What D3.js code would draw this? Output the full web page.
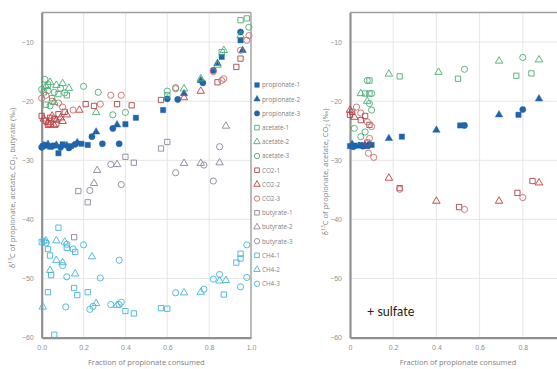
<!DOCTYPE html>
<html>
<head>
<meta charset="utf-8">
<script src="https://cdn.jsdelivr.net/npm/d3@7"></script>
<style>
  html, body { margin: 0; padding: 0; background: #fff; }
  svg { display: block; font-family: "Open Sans", "Noto Sans", sans-serif; }
</style>
</head>
<body>
<script>
// x = fraction of propionate consumed, y = d13C (permil)
const xTicksLeft = ['0.0', '0.2', '0.4', '0.6', '0.8', '1.0'];
const xTicksRight = ['0', '0.2', '0.4', '0.6', '0.8'];
const yTicks = [-10, -20, -30, -40, -50, -60];

// left panel (no sulfate)
const propionate1 = [[0.005,-27.6],[0.02,-27.4],[0.04,-27.7],[0.06,-27.5],[0.08,-28.8],[0.1,-27.3],[0.14,-27.6],[0.19,-27.2],[0.22,-27.4],[0.40,-23.9],[0.45,-22.8],[0.58,-21.5],[0.86,-12.5],[0.95,-9.7]];
const propionate2 = [[0.01,-27.5],[0.03,-27.3],[0.07,-27.4],[0.12,-27.5],[0.17,-27.0],[0.26,-25.2],[0.36,-24.0],[0.68,-18.7],[0.76,-16.5],[0.84,-13.6],[0.96,-11.4]];
const propionate3 = [[0.0,-27.8],[0.015,-27.5],[0.05,-27.6],[0.09,-27.8],[0.13,-27.9],[0.16,-27.3],[0.24,-26.0],[0.29,-27.2],[0.34,-24.6],[0.37,-27.2],[0.60,-19.6],[0.65,-19.7],[0.77,-16.9],[0.82,-14.8],[0.95,-8.3]];
const acetate1 = [[0.01,-18.5],[0.03,-17.2],[0.05,-19.5],[0.08,-18.8],[0.12,-19.0],[0.02,-20.6],[0.6,-19.0],[0.86,-11.7],[0.95,-6.3],[0.98,-6.0]];
const acetate2 = [[0.02,-17.5],[0.04,-16.8],[0.07,-17.3],[0.1,-17.0],[0.13,-17.8],[0.06,-20.2],[0.26,-21.9],[0.68,-17.9],[0.76,-16.2],[0.84,-13.9],[0.87,-11.4],[0.95,-8.9]];
const acetate3 = [[0.0,-18.0],[0.015,-16.3],[0.03,-18.2],[0.06,-18.5],[0.09,-17.8],[0.11,-18.6],[0.04,-20.8],[0.2,-17.5],[0.27,-18.5],[0.34,-22.3],[0.40,-21.9],[0.6,-18.3],[0.64,-17.9],[0.99,-7.5]];
const co2_1 = [[0.0,-22.5],[0.02,-23.3],[0.04,-22.8],[0.06,-23.0],[0.08,-22.2],[0.11,-21.8],[0.03,-24.0],[0.07,-23.8],[0.21,-20.5],[0.25,-20.8],[0.36,-20.5],[0.43,-20.7],[0.57,-19.8],[0.84,-16.8],[0.93,-14.2],[0.95,-12.8]];
const co2_2 = [[0.01,-23.0],[0.03,-23.6],[0.05,-22.5],[0.07,-23.2],[0.09,-22.8],[0.12,-22.3],[0.04,-23.9],[0.06,-24.1],[0.1,-23.4],[0.18,-21.5],[0.68,-19.4],[0.76,-18.3]];
const co2_3 = [[0.0,-19.5],[0.02,-19.0],[0.05,-20.0],[0.08,-20.3],[0.1,-21.0],[0.15,-21.5],[0.28,-20.5],[0.33,-19.0],[0.38,-19.0],[0.64,-17.7],[0.82,-15.0],[0.86,-16.5],[0.87,-16.2],[0.95,-11.4],[0.98,-9.7],[0.99,-8.9]];
const butyrate1 = [[0.155,-43.0],[0.175,-35.2],[0.22,-37.1],[0.40,-29.4],[0.44,-30.4],[0.57,-28.0],[0.60,-26.9]];
const butyrate2 = [[0.25,-33.9],[0.265,-31.7],[0.36,-30.7],[0.68,-30.5],[0.76,-30.5],[0.85,-30.4],[0.88,-24.2]];
const butyrate3 = [[0.23,-35.1],[0.33,-30.7],[0.38,-34.1],[0.64,-32.1],[0.775,-30.8],[0.82,-33.5],[0.85,-27.7]];
const ch4_1 = [[0.0,-43.8],[0.03,-45.0],[0.04,-46.1],[0.045,-49.4],[0.03,-52.3],[0.06,-59.5],[0.08,-41.4],[0.12,-44.8],[0.16,-45.5],[0.155,-51.6],[0.17,-52.8],[0.22,-52.3],[0.40,-55.5],[0.44,-55.9],[0.57,-55.0],[0.60,-55.1],[0.87,-52.7],[0.93,-47.3],[0.95,-45.8],[0.95,-46.6]];
const ch4_2 = [[0.005,-54.8],[0.02,-43.6],[0.04,-48.6],[0.07,-43.6],[0.07,-46.9],[0.10,-47.3],[0.11,-43.8],[0.16,-49.2],[0.24,-46.3],[0.26,-54.2],[0.36,-54.5],[0.68,-52.4],[0.76,-52.3],[0.85,-50.4],[0.88,-50.3]];
const ch4_3 = [[0.01,-43.7],[0.02,-44.0],[0.10,-47.8],[0.115,-54.8],[0.12,-44.2],[0.12,-49.7],[0.15,-45.0],[0.20,-44.3],[0.23,-55.2],[0.245,-54.7],[0.28,-49.9],[0.33,-54.4],[0.37,-46.9],[0.37,-54.4],[0.38,-54.0],[0.64,-52.4],[0.775,-51.8],[0.82,-50.1],[0.85,-49.3],[0.95,-51.4],[0.98,-44.3],[0.98,-49.8]];

// right panel (+ sulfate)
const propionate1S = [[0.0,-27.6],[0.02,-27.5],[0.05,-27.4],[0.08,-27.6],[0.10,-27.4],[0.24,-26.0],[0.51,-24.1],[0.78,-22.3]];
const propionate2S = [[0.01,-27.3],[0.04,-27.6],[0.07,-27.5],[0.18,-26.3],[0.40,-24.9],[0.69,-22.3],[0.875,-19.6]];
const propionate3S = [[0.015,-27.7],[0.06,-27.6],[0.09,-27.3],[0.53,-24.1],[0.80,-21.4]];
const acetate1S = [[0.09,-16.5],[0.07,-18.7],[0.09,-18.7],[0.23,-15.8],[0.50,-16.2],[0.77,-15.7],[0.84,-15.3]];
const acetate2S = [[0.05,-18.7],[0.08,-20.0],[0.18,-15.4],[0.41,-15.1],[0.69,-13.2],[0.875,-13.0]];
const acetate3S = [[0.08,-16.5],[0.10,-18.7],[0.09,-20.4],[0.10,-21.5],[0.07,-25.2],[0.05,-26.0],[0.02,-24.6],[0.53,-14.6],[0.80,-12.6]];
const co2_1S = [[0.0,-22.3],[0.01,-21.8],[0.05,-23.2],[0.07,-22.5],[0.09,-24.0],[0.08,-27.0],[0.23,-34.7],[0.505,-37.9],[0.775,-35.5],[0.845,-33.5]];
const co2_2S = [[0.0,-21.5],[0.02,-22.7],[0.18,-33.0],[0.40,-36.9],[0.69,-36.9],[0.875,-33.8]];
const co2_3S = [[0.03,-21.0],[0.05,-22.0],[0.08,-23.5],[0.10,-24.3],[0.09,-26.3],[0.085,-28.8],[0.11,-29.5],[0.23,-34.9],[0.53,-38.3],[0.80,-36.3]];

const seriesNames = ['propionate-1','propionate-2','propionate-3','acetate-1','acetate-2','acetate-3',
  'CO2-1','CO2-2','CO2-3','butyrate-1','butyrate-2','butyrate-3','CH4-1','CH4-2','CH4-3'];

const colors = {
  propionate: '#1f64ad', acetate: '#4aae76', co2_1: '#a8464a', co2_2: '#c43b3b', co2_3: '#cc6a6a',
  butyrate: '#8e84a0', ch4: '#45b4da'
};
const styles = [
  { shape: 'square', fill: true, color: colors.propionate },
  { shape: 'triangle', fill: true, color: colors.propionate },
  { shape: 'circle', fill: true, color: colors.propionate },
  { shape: 'square', color: colors.acetate },
  { shape: 'triangle', color: colors.acetate },
  { shape: 'circle', color: colors.acetate },
  { shape: 'square', color: colors.co2_1 },
  { shape: 'triangle', color: colors.co2_2 },
  { shape: 'circle', color: colors.co2_3 },
  { shape: 'square', color: colors.butyrate },
  { shape: 'triangle', color: colors.butyrate },
  { shape: 'circle', color: colors.butyrate },
  { shape: 'square', color: colors.ch4 },
  { shape: 'triangle', color: colors.ch4 },
  { shape: 'circle', color: colors.ch4 }
];

const leftData = [propionate1, propionate2, propionate3, acetate1, acetate2, acetate3,
  co2_1, co2_2, co2_3, butyrate1, butyrate2, butyrate3, ch4_1, ch4_2, ch4_3];
const rightData = [propionate1S, propionate2S, propionate3S, acetate1S, acetate2S, acetate3S,
  co2_1S, co2_2S, co2_3S, [], [], [], [], [], []];

const W = 557, H = 369;
const svg = d3.select('body').append('svg').attr('width', W).attr('height', H);

const symbolType = { square: d3.symbolSquare, triangle: d3.symbolTriangle, circle: d3.symbolCircle };
const symbolSize = { square: 28, triangle: 24, circle: 30 };
function sym(shape, scale = 1) {
  return d3.symbol().type(symbolType[shape]).size(symbolSize[shape] * scale)();
}

function panel(opts) {
  const { x0, x1, y0, y1, data, xLabels, yTitle, boxRight } = opts;
  const x = d3.scaleLinear().domain([0, 1]).range([x0, x1]);
  const y = d3.scaleLinear().domain([-60, -5]).range([y1, y0]);
  const g = svg.append('g');

  // grid
  g.append('g').selectAll('line').data([0.2, 0.4, 0.6, 0.8]).join('line')
    .attr('x1', d => x(d)).attr('x2', d => x(d)).attr('y1', y0).attr('y2', y1)
    .attr('stroke', '#e6e6e6').attr('stroke-width', 1);
  g.append('g').selectAll('line').data([-10, -20, -30, -40, -50]).join('line')
    .attr('x1', x0).attr('x2', x1).attr('y1', d => y(d)).attr('y2', d => y(d))
    .attr('stroke', '#e6e6e6').attr('stroke-width', 1);

  // frame
  g.append('line').attr('x1', x0).attr('x2', x1).attr('y1', y0).attr('y2', y0)
    .attr('stroke', '#a0a0a0').attr('stroke-width', 1.4);
  if (boxRight) {
    g.append('line').attr('x1', x1).attr('x2', x1).attr('y1', y0).attr('y2', y1)
      .attr('stroke', '#a0a0a0').attr('stroke-width', 1.4);
  }

  // axes
  const xAxis = d3.axisBottom(x).tickValues(d3.range(xLabels.length).map(i => i / 5))
    .tickFormat((d, i) => xLabels[i]).tickSize(0).tickPadding(7);
  g.append('g').attr('transform', `translate(0,${y1})`).call(xAxis)
    .call(a => a.select('.domain').attr('stroke', '#909090').attr('stroke-width', 2.2))
    .call(a => a.selectAll('text').attr('fill', '#8f8f8f').attr('font-size', 7));
  const yAxis = d3.axisLeft(y).tickValues(yTicks).tickSize(0).tickPadding(8);
  g.append('g').attr('transform', `translate(${x0},0)`).call(yAxis)
    .call(a => a.select('.domain').attr('stroke', '#909090').attr('stroke-width', 2.2))
    .call(a => a.selectAll('text').attr('fill', '#8f8f8f').attr('font-size', 7));

  // points
  data.forEach((pts, i) => {
    const st = styles[i];
    g.append('g').selectAll('path').data(pts).join('path')
      .attr('d', sym(st.shape))
      .attr('transform', d => `translate(${x(d[0])},${y(d[1])})`)
      .attr('fill', st.fill ? st.color : 'none')
      .attr('stroke', st.color)
      .attr('stroke-width', st.fill ? 0.5 : 1.0)
      .attr('stroke-opacity', 0.9);
  });

  // axis titles
  svg.append('text').attr('x', (x0 + (opts.xTitleRight || x1)) / 2).attr('y', 365)
    .attr('text-anchor', 'middle').attr('font-size', 7.5).attr('fill', '#808080')
    .text('Fraction of propionate consumed');

  const t = svg.append('text')
    .attr('transform', `translate(${opts.yTitleX},${opts.yTitleY}) rotate(-90)`)
    .attr('text-anchor', 'middle').attr('font-size', 7.5).attr('fill', '#808080');
  t.append('tspan').text('\u03b4');
  t.append('tspan').attr('font-size', 5).attr('dy', -3).text('13');
  t.append('tspan').attr('dy', 3).text('C of propionate, acetate, CO');
  t.append('tspan').attr('font-size', 5).attr('dy', 2).text('2');
  t.append('tspan').attr('dy', -2).text(yTitle);
  return { x, y };
}

panel({ x0: 41.7, x1: 251, y0: 12.5, y1: 337.7, data: leftData, xLabels: xTicksLeft,
  yTitle: ', butyrate (\u2030)', boxRight: true, yTitleX: 15, yTitleY: 188 });
panel({ x0: 350, x1: 566, y0: 12.5, y1: 337.7, data: rightData, xLabels: xTicksRight,
  yTitle: ' (\u2030)', boxRight: false, yTitleX: 328, yTitleY: 172, xTitleRight: 566 });

svg.append('text').attr('x', 367).attr('y', 316)
  .attr('font-size', 12.5).attr('fill', '#222').attr('font-family', 'Lato, "Open Sans", sans-serif')
  .text('+ sulfate');

// legend
const legend = svg.append('g').attr('transform', 'translate(257,85)');
const rows = legend.selectAll('g').data(seriesNames).join('g')
  .attr('transform', (d, i) => `translate(0,${i * 14.2})`);
rows.append('path')
  .attr('d', (d, i) => sym(styles[i].shape, 0.75))
  .attr('fill', (d, i) => styles[i].fill ? styles[i].color : 'none')
  .attr('stroke', (d, i) => styles[i].color)
  .attr('stroke-width', (d, i) => styles[i].fill ? 0.5 : 0.9);
rows.append('text').attr('x', 5).attr('y', 2.3)
  .attr('font-size', 6.3).attr('fill', '#7f7f7f').text(d => d);
</script>
</body>
</html>
